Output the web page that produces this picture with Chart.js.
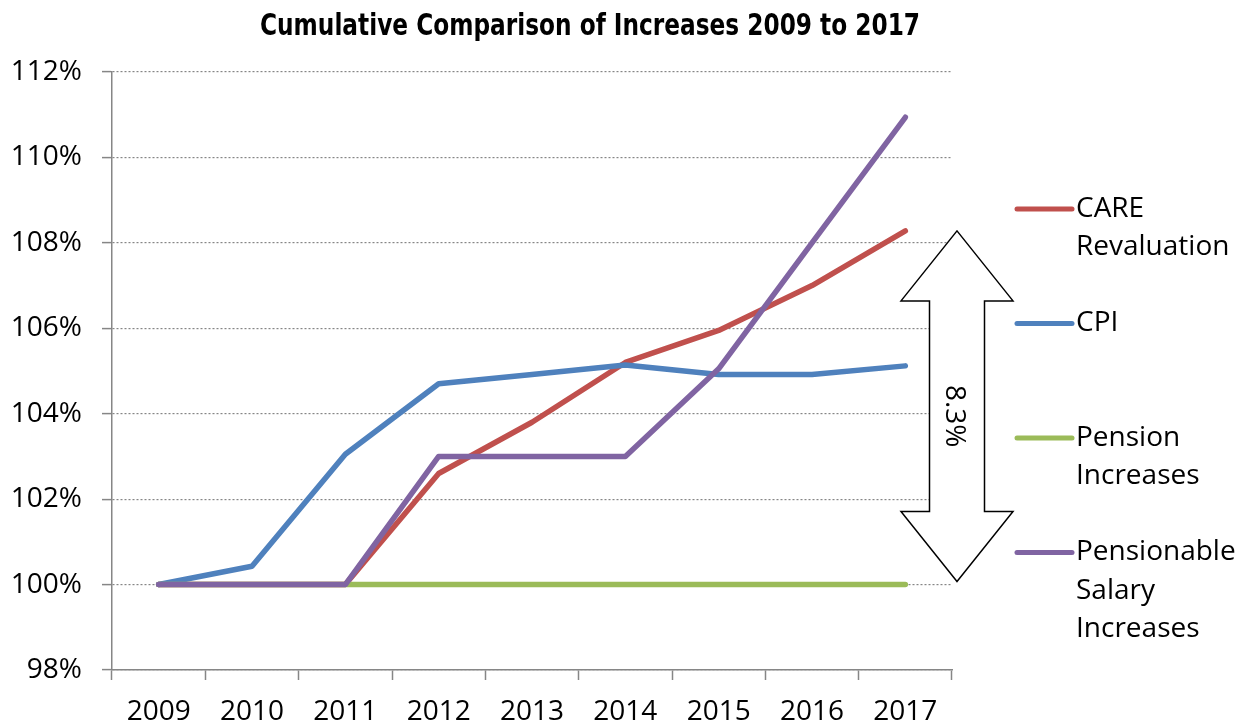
<!DOCTYPE html>
<html><head><meta charset="utf-8">
<script src="https://cdn.jsdelivr.net/npm/chart.js@4"></script>
<style>html,body{margin:0;padding:0;background:#fff;}#wrap{width:1237px;height:725px;}</style>
</head><body><div id="wrap"><canvas id="c" width="1237" height="725"></canvas></div>
<script>
const chartTitle = 'Cumulative Comparison of Increases 2009 to 2017';
const years = ['2009','2010','2011','2012','2013','2014','2015','2016','2017'];
const careRevaluation   = [100, 100, 100, 102.6, 103.8, 105.2, 105.95, 107.0, 108.28];
const cpi               = [100, 100.43, 103.05, 104.7, 104.92, 105.14, 104.92, 104.92, 105.12];
const pensionIncreases  = [100, 100, 100, 100, 100, 100, 100, 100, 100];
const pensionableSalary = [100, 100, 100, 103.0, 103.0, 103.0, 105.05, 108.0, 110.94];
const yMin = 98, yMax = 112, yStep = 2;
const seriesNames = ['CARE Revaluation', 'CPI', 'Pension Increases', 'Pensionable Salary Increases'];
const legendLines = [['CARE','Revaluation'], ['CPI'], ['Pension','Increases'], ['Pensionable','Salary','Increases']];
const seriesColors = ['#C0504D', '#4F81BD', '#9BBB59', '#8064A2'];

const FONT = "'Open Sans', sans-serif";

const overlay = {
  id: 'overlay',
  afterDraw(chart) {
    const {ctx} = chart;
    ctx.save();
    ctx.font = "bold 30px 'Liberation Sans Narrow', 'DejaVu Sans Condensed', sans-serif";
    const w = ctx.measureText(chartTitle).width;
    const sx = 660 / w;
    ctx.translate(590, 27);
    ctx.scale(sx, 1);
    ctx.fillStyle = '#000';
    ctx.textAlign = 'center';
    ctx.textBaseline = 'middle';
    ctx.fillText(chartTitle, 0, 0);
    ctx.restore();
  },
  afterDatasetsDraw(chart) {
    const {ctx, chartArea, scales} = chart;
    const y = scales.y;
    const n = careRevaluation.length - 1;
    const topY = y.getPixelForValue(careRevaluation[n]);
    const botY = y.getPixelForValue(pensionIncreases[n]) - 3;
    const cx = chartArea.right + 5;
    const headH = 70, headHW = 56, shaftHW = 27.5;
    ctx.save();
    ctx.beginPath();
    ctx.moveTo(cx, topY);
    ctx.lineTo(cx + headHW, topY + headH);
    ctx.lineTo(cx + shaftHW, topY + headH);
    ctx.lineTo(cx + shaftHW, botY - headH);
    ctx.lineTo(cx + headHW, botY - headH);
    ctx.lineTo(cx, botY);
    ctx.lineTo(cx - headHW, botY - headH);
    ctx.lineTo(cx - shaftHW, botY - headH);
    ctx.lineTo(cx - shaftHW, topY + headH);
    ctx.lineTo(cx - headHW, topY + headH);
    ctx.closePath();
    ctx.fillStyle = '#fff';
    ctx.fill();
    ctx.lineWidth = 1.5;
    ctx.strokeStyle = '#000';
    ctx.lineJoin = 'miter';
    ctx.stroke();
    const diff = (careRevaluation[n] - pensionIncreases[n]).toFixed(1) + '%';
    ctx.translate(cx - 3, (topY + botY) / 2 + 10);
    ctx.rotate(Math.PI / 2);
    ctx.fillStyle = '#000';
    ctx.font = '28px ' + FONT;
    ctx.textAlign = 'center';
    ctx.textBaseline = 'middle';
    ctx.fillText(diff, 0, 0);
    ctx.restore();

    // legend
    ctx.save();
    const x0 = chartArea.right + 65;
    const startY = chartArea.top + 137;
    const step = 114.5;
    ctx.font = '28px ' + FONT;
    ctx.textBaseline = 'middle';
    ctx.textAlign = 'left';
    legendLines.forEach((lines, i) => {
      const ly = startY + i * step;
      ctx.beginPath();
      ctx.moveTo(x0, ly);
      ctx.lineTo(x0 + 55, ly);
      ctx.lineWidth = 5;
      ctx.lineCap = 'round';
      ctx.strokeStyle = seriesColors[i];
      ctx.stroke();
      ctx.fillStyle = '#000';
      lines.forEach((t, k) => ctx.fillText(t, x0 + 59, ly + k * 38.5));
    });
    ctx.restore();
  }
};

const seriesData = [careRevaluation, cpi, pensionIncreases, pensionableSalary];
const drawOrder = [3, 2, 1, 0];

new Chart(document.getElementById('c'), {
  type: 'line',
  data: {
    labels: years,
    datasets: seriesData.map((d, i) => ({
      label: seriesNames[i],
      data: d,
      borderColor: seriesColors[i],
      backgroundColor: seriesColors[i],
      borderWidth: 5.5,
      pointRadius: 0,
      tension: 0,
      fill: false,
      borderCapStyle: 'round',
      borderJoinStyle: 'round',
      order: drawOrder[i]
    }))
  },
  options: {
    responsive: false,
    animation: false,
    devicePixelRatio: 1,
    layout: { padding: { left: 0, right: 285, top: 72, bottom: 0 } },
    plugins: {
      legend: { display: false },
      tooltip: { enabled: false },
      title: { display: false }
    },
    scales: {
      x: {
        offset: true,
        grid: { offset: true, drawOnChartArea: false, drawTicks: true, tickLength: 10, tickColor: '#868686', tickWidth: 1.5 },
        border: { color: '#868686', width: 1.5 },
        ticks: { color: '#000', font: { family: FONT, size: 28 }, padding: 15, maxRotation: 0, autoSkip: false },
        afterFit(s) { s.height = 55; }
      },
      y: {
        min: yMin, max: yMax,
        grid: { color: '#868686', lineWidth: 1.2, tickLength: 10, tickColor: '#868686', tickWidth: 1.5 },
        border: { color: '#868686', width: 1.5, dash: [2, 2] },
        ticks: { stepSize: yStep, color: '#000', font: { family: FONT, size: 28 }, padding: 20, callback: v => v + '%' },
        afterFit(s) { s.width = 112; }
      }
    }
  },
  plugins: [overlay]
});
</script>
</body></html>
